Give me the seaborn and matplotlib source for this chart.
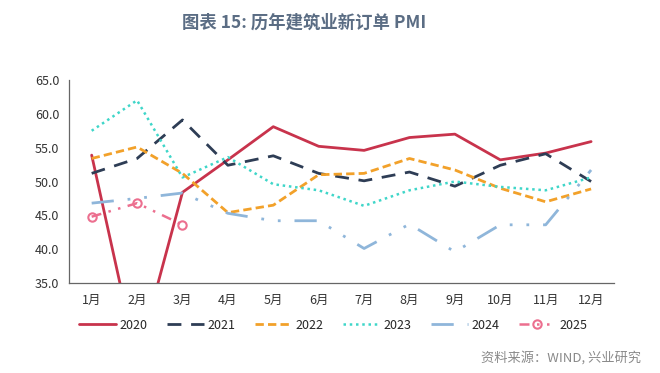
import matplotlib
matplotlib.use("Agg")
import matplotlib.pyplot as plt
import seaborn as sns
import numpy as np
import pandas as pd

months = ["1月", "2月", "3月", "4月", "5月", "6月", "7月", "8月", "9月", "10月", "11月", "12月"]
y2020 = [53.9, 23.5, 48.4, 53.2, 58.1, 55.2, 54.6, 56.5, 57.0, 53.2, 54.2, 55.9]
y2021 = [51.2, 53.4, 59.1, 52.4, 53.8, 51.2, 50.1, 51.4, 49.3, 52.4, 54.1, 50.0]
y2022 = [53.4, 55.1, 51.2, 45.4, 46.5, 51.0, 51.2, 53.4, 51.7, 49.0, 47.0, 48.9]
y2023 = [57.5, 62.0, 50.6, 53.6, 49.6, 48.7, 46.4, 48.7, 50.0, 49.2, 48.7, 50.6]
y2024 = [46.8, 47.5, 48.3, 45.3, 44.2, 44.2, 40.1, 43.7, 39.6, 43.6, 43.6, 51.7]
y2025 = [44.8, 46.8, 43.6]
yticks = [35.0, 40.0, 45.0, 50.0, 55.0, 60.0, 65.0]

sns.set_theme(style="white")
plt.rcParams['font.family'] = ['Noto Sans CJK SC', 'DejaVu Sans']

fig = plt.figure(figsize=(6.6, 3.73), dpi=100)
ax = fig.add_axes([0.1045, 0.2413, 0.8255, 0.5442])

series = [
    ("2020", y2020, "#C8334C", "-", 2.0, None),
    ("2021", y2021, "#2E3D55", (0, (5, 3.5)), 2.0, None),
    ("2022", y2022, "#F2A12A", (0, (3, 1.5)), 2.0, None),
    ("2023", y2023, "#3FD6C9", (0, (1, 1.5)), 1.8, None),
    ("2024", y2024, "#8FB6DA", (0, (8, 5, 1, 5, 1, 5)), 2.0, None),
    ("2025", y2025, "#EC6F8F", (0, (4, 3, 1, 3, 1, 3)), 1.8, "o"),
]

for name, vals, col, ls, lw, mk in series:
    df = pd.DataFrame({"x": np.arange(len(vals)), "y": vals})
    kw = {}
    if mk:
        kw = dict(marker=mk, markersize=6, markerfacecolor="none",
                  markeredgecolor=col, markeredgewidth=1.5)
    sns.lineplot(data=df, x="x", y="y", ax=ax, color=col, linestyle=ls,
                 linewidth=lw, label=name, **kw)

ax.set_xlim(-0.5, 11.5)
ax.set_ylim(35, 65)
ax.set_yticks(yticks)
ax.set_yticklabels([f"{v:.1f}" for v in yticks], fontsize=9, color="#333333")
ax.set_xticks(np.arange(12))
ax.set_xticklabels(months, fontsize=9, color="#333333")
ax.set_xticks(np.arange(-0.5, 12, 1), minor=True)
ax.tick_params(axis="x", which="major", length=0, pad=8)
ax.tick_params(axis="x", which="minor", length=4, width=0.8, color="#555555", direction="out")
ax.tick_params(axis="y", length=4, width=0.8, color="#555555", direction="out", pad=3)
ax.set_xlabel("")
ax.set_ylabel("")
for s in ["top", "right"]:
    ax.spines[s].set_visible(False)
for s in ["left", "bottom"]:
    ax.spines[s].set_color("#666666")
    ax.spines[s].set_linewidth(0.9)
ax.grid(False)

ax.legend(loc="upper center", bbox_to_anchor=(0.485, -0.12), ncol=6, frameon=False,
          fontsize=9, handlelength=3.0, handletextpad=0.3, columnspacing=1.5)

fig.text(0.46, 0.94, "图表 15: 历年建筑业新订单 PMI", ha="center", va="center",
         fontsize=12.5, fontweight="bold", color="#5B6D84")
fig.text(0.971, 0.042, "资料来源：WIND, 兴业研究", ha="right", va="center",
         fontsize=9.5, color="#8A8A8A")

fig.savefig("out.png", dpi=100)
